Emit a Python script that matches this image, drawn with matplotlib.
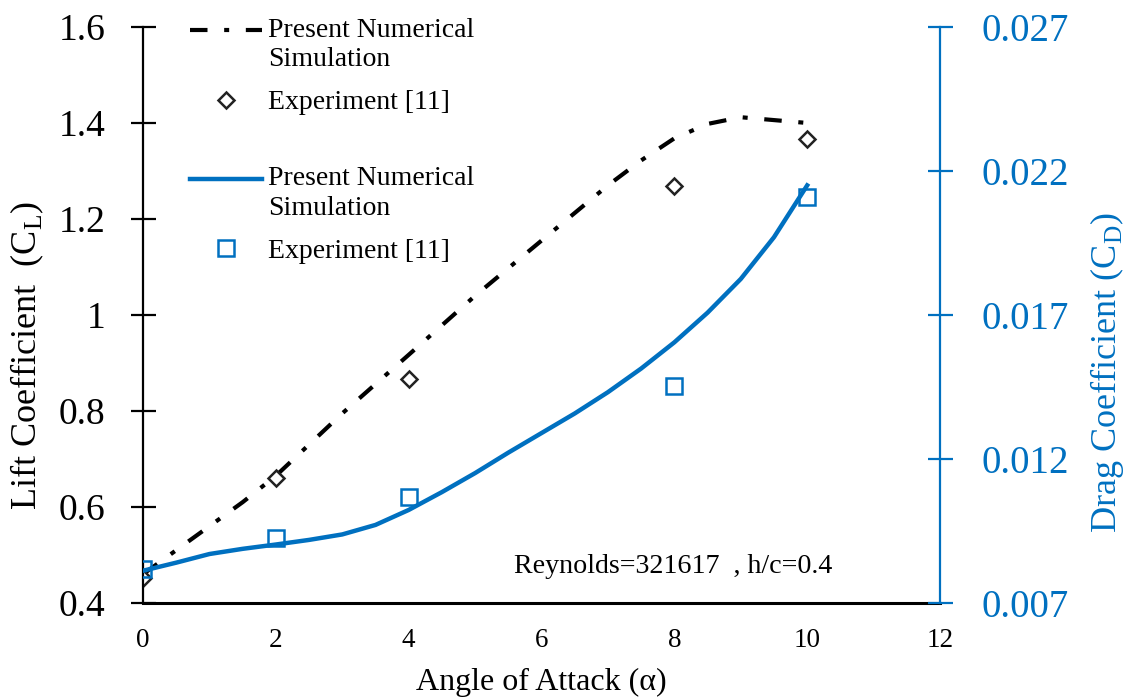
import numpy as np
import matplotlib
matplotlib.use("Agg")
import matplotlib.pyplot as plt
from matplotlib.legend_handler import HandlerLine2D

plt.rcParams['font.family'] = ['Liberation Serif', 'DejaVu Serif']
plt.rcParams['mathtext.fontset'] = 'custom'
plt.rcParams['mathtext.rm'] = 'Liberation Serif'

BLUE = '#0070C0'

# lift: simulation curve and experiment
alpha_sim = [0, 0.5, 1, 1.5, 2, 3, 4, 5, 6, 7, 7.5, 8, 8.5, 9, 9.5, 10]
cl_sim = [0.46, 0.51, 0.56, 0.61, 0.665, 0.795, 0.917, 1.04, 1.155, 1.27,
          1.322, 1.368, 1.398, 1.412, 1.406, 1.40]
alpha_exp = [0, 2, 4, 8, 10]
cl_exp = [0.453, 0.66, 0.867, 1.269, 1.367]

# drag: simulation curve and experiment
alpha_sim_d = [0, 0.5, 1, 1.5, 2, 2.5, 3, 3.5, 4, 4.5, 5, 5.5, 6, 6.5, 7, 7.5,
               8, 8.5, 9, 9.5, 10]
cd_sim = [0.00812, 0.0084, 0.0087, 0.00888, 0.00903, 0.00919, 0.00938, 0.00971,
          0.01023, 0.01085, 0.01151, 0.01222, 0.0129, 0.01358, 0.01432, 0.01514,
          0.01605, 0.01708, 0.01825, 0.0197, 0.0215]
cd_exp = [0.00818, 0.00924, 0.01068, 0.01454, 0.0211]

lift_ticks = [0.4, 0.6, 0.8, 1.0, 1.2, 1.4, 1.6]
lift_labels = ['0.4', '0.6', '0.8', '1', '1.2', '1.4', '1.6']
drag_ticks = [0.007, 0.012, 0.017, 0.022, 0.027]
x_ticks = [0, 2, 4, 6, 8, 10, 12]


class FirstRowLine(HandlerLine2D):
    # put the legend line level with the first row of a two-row label
    def __init__(self, shift, **kw):
        super().__init__(**kw)
        self.shift = shift

    def create_artists(self, legend, orig_handle, xdescent, ydescent, width,
                       height, fontsize, trans):
        arts = super().create_artists(legend, orig_handle, xdescent, ydescent,
                                      width, height, fontsize, trans)
        for a in arts:
            a.set_ydata(np.asarray(a.get_ydata()) + self.shift)
        return arts


fig = plt.figure(figsize=(11.29, 6.97), dpi=100)
ax = fig.add_axes([0.1267, 0.1349, 0.7059, 0.8264])
ax2 = ax.twinx()

l1, = ax.plot(alpha_sim, cl_sim, color='black', lw=3.0, dashes=(4.2, 4.0, 1.2, 4.0),
              dash_capstyle='butt', label='Present Numerical\nSimulation')
m1, = ax.plot(alpha_exp, cl_exp, ls='none', marker='D', ms=8.5, mfc='white',
              mec='#222222', mew=1.8, label='Experiment [11]')
l2, = ax2.plot(alpha_sim_d, cd_sim, color=BLUE, lw=3.2,
               label='Present Numerical\nSimulation')
m2, = ax2.plot(alpha_exp, cd_exp, ls='none', marker='s', ms=12, mfc='none',
               mec=BLUE, mew=1.8, label='Experiment [11]')

ax.set_xlim(0, 12)
ax.set_ylim(0.4, 1.6)
ax2.set_ylim(0.007, 0.027)
ax.set_xticks(x_ticks)
ax.set_yticks(lift_ticks)
ax.set_yticklabels(lift_labels)
ax2.set_yticks(drag_ticks)
ax2.set_yticklabels([f'{t:.3f}' for t in drag_ticks])

for a in (ax, ax2):
    a.spines['top'].set_visible(False)
ax.spines['right'].set_visible(False)
ax2.spines['left'].set_visible(False)
ax2.spines['bottom'].set_visible(False)
ax.spines['left'].set_linewidth(1.6)
ax.spines['bottom'].set_linewidth(2.2)
ax2.spines['right'].set_color(BLUE)
ax2.spines['right'].set_linewidth(1.6)

ax.tick_params(axis='x', length=0, pad=18, labelsize=19.5)
ax.tick_params(axis='y', direction='inout', length=18, width=1.6, pad=18, labelsize=27)
ax2.tick_params(axis='y', direction='inout', length=18, width=1.6, pad=21,
                labelsize=28, colors=BLUE)

ax.set_xlabel('Angle of Attack (α)', fontsize=23)
ax.xaxis.set_label_coords(0.5, -0.112)
ax.set_ylabel('Lift Coefficient  (C$_\\mathregular{L}$)', fontsize=26)
ax.yaxis.set_label_coords(-0.122, 0.43)
ax2.set_ylabel('Drag Coefficient (C$_\\mathregular{D}$)', fontsize=26, color=BLUE)
ax2.yaxis.set_label_coords(1.186, 0.40)

leg_kw = dict(frameon=False, fontsize=20, handlelength=2.6, handletextpad=0.2,
              labelspacing=0.65, borderaxespad=0, borderpad=0)
hmap = {l1: FirstRowLine(10.5), l2: FirstRowLine(10.5)}
leg1 = ax2.legend(handles=[l1, m1], loc='upper left', bbox_to_anchor=(0.059, 1.016),
                  handler_map=hmap, **leg_kw)
ax2.add_artist(leg1)
leg2 = ax2.legend(handles=[l2, m2], loc='upper left', bbox_to_anchor=(0.059, 0.758),
                  handler_map=hmap, **leg_kw)
for leg in (leg1, leg2):
    for t in leg.get_texts():
        t.set_linespacing(1.22)

ax.text(10.38, 0.475, 'Reynolds=321617  , h/c=0.4', fontsize=20.2, ha='right', va='center')

fig.savefig('out.png', dpi=100)
